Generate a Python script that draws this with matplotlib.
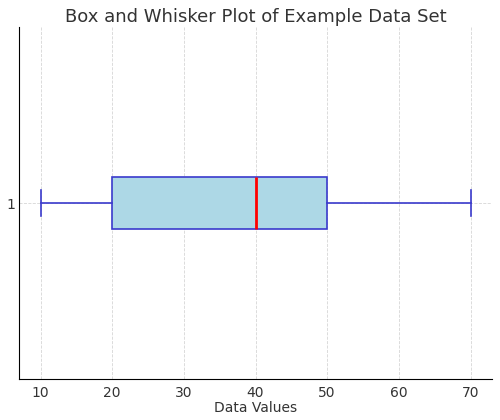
import matplotlib
matplotlib.use("Agg")
import matplotlib.pyplot as plt

# summary stats of the example data set
label = "1"
whisker_low = 10
q1 = 20
median = 40
q3 = 50
whisker_high = 70

stats = [{"label": label, "whislo": whisker_low, "q1": q1, "med": median,
          "q3": q3, "whishi": whisker_high, "fliers": []}]

plt.rcParams['text.color'] = '#333333'
plt.rcParams['axes.labelcolor'] = '#333333'
plt.rcParams['xtick.color'] = '#333333'
plt.rcParams['ytick.color'] = '#333333'

fig, ax = plt.subplots(figsize=(5, 4.2), dpi=100)

edge = '#3a3acc'
ax.bxp(stats, vert=False, widths=0.15, patch_artist=True,
       boxprops=dict(facecolor='lightblue', edgecolor=edge, linewidth=1.2),
       whiskerprops=dict(color=edge, linewidth=1.2),
       capprops=dict(color=edge, linewidth=1.2),
       medianprops=dict(color='red', linewidth=2))

ax.grid(True, linestyle='--', linewidth=0.6, color='#cccccc', alpha=0.8)
ax.set_axisbelow(True)
ax.spines['top'].set_visible(False)
ax.spines['right'].set_visible(False)
ax.tick_params(axis='x', length=0, pad=5)
ax.tick_params(axis='y', length=0, pad=3)

ax.set_title("Box and Whisker Plot of Example Data Set", fontsize=13, pad=4)
ax.set_xlabel("Data Values", labelpad=1)

fig.subplots_adjust(left=0.038, right=0.984, top=0.935, bottom=0.098)
fig.savefig("out.png")
